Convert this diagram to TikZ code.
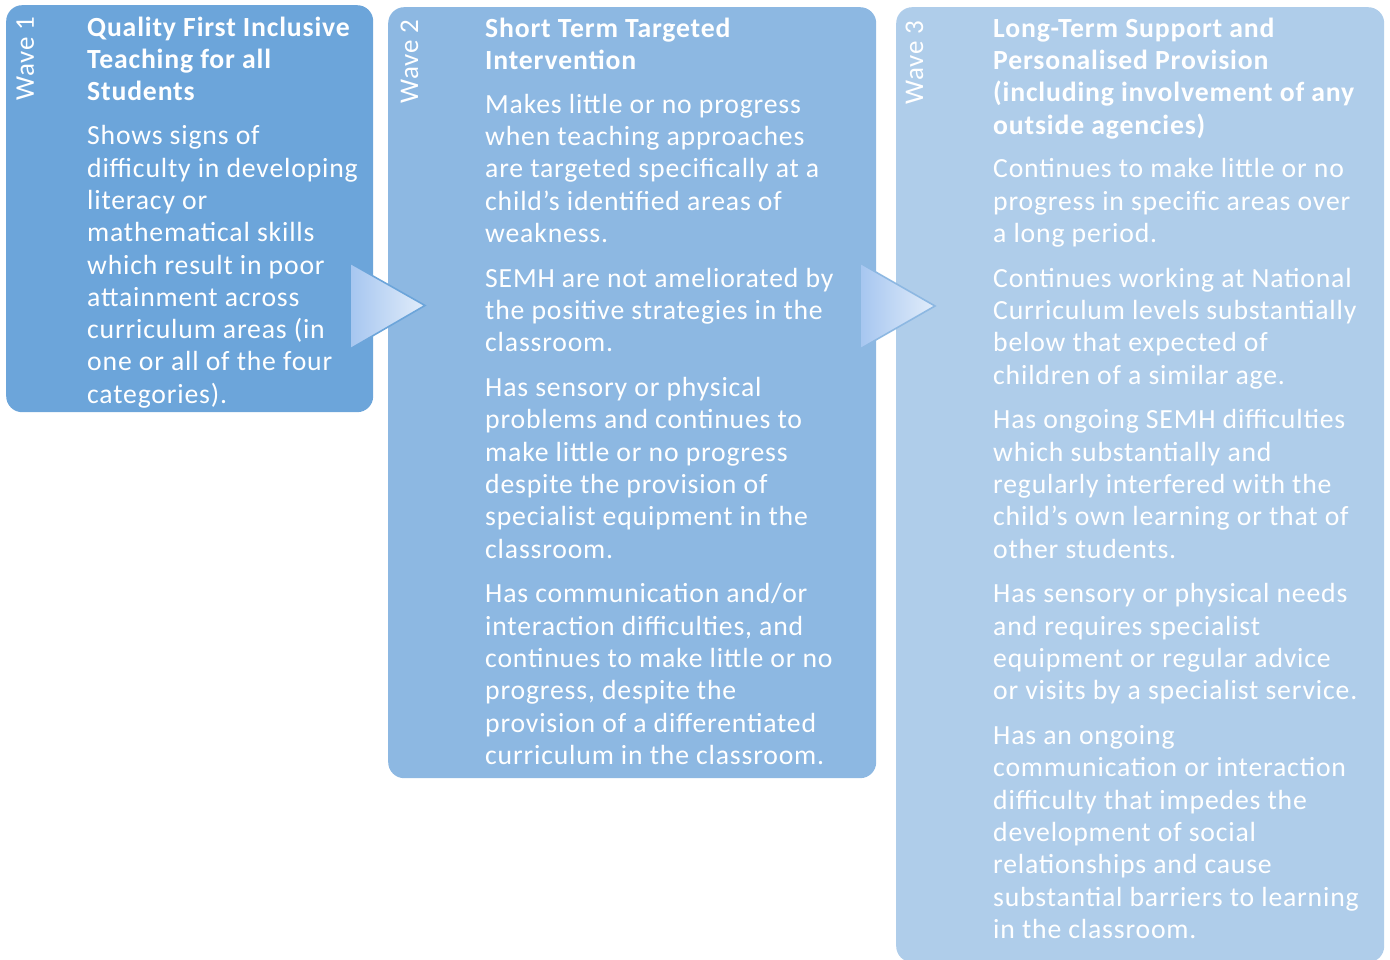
\documentclass[tikz,border=0pt]{standalone}
\usepackage{fontspec}
\setmainfont{Carlito}[LetterSpace=3]
\definecolor{waveA}{HTML}{6CA5DA}
\definecolor{waveB}{HTML}{8DB8E2}
\definecolor{waveC}{HTML}{AFCDEA}
\definecolor{arrL}{HTML}{A6C6F0}
\definecolor{arrR}{HTML}{E2EDFA}
\tikzset{
  panel/.style={rounded corners=16pt, inner sep=0pt, anchor=north west, draw=none},
  txt/.style={anchor=north west, inner sep=0pt, align=left, text=white,
    font=\fontsize{27.7}{32.3}\selectfont},
  ttl/.style={txt, font=\fontsize{27.7}{32.3}\selectfont\bfseries},
  wave/.style={anchor=base west, inner sep=0pt, rotate=90, text=white,
    font=\fontsize{27}{30}\selectfont},
  chevron/.style={line width=1.6pt, left color=arrL, right color=arrR, line join=miter}
}
\begin{document}
\begin{tikzpicture}[x=1pt,y=-1pt]
\useasboundingbox (0,0) rectangle (1390,960);
% panels
\node[panel, fill=waveA, minimum width=367pt, minimum height=407pt] (p1) at (6,5) {};
\node[panel, fill=waveB, minimum width=488pt, minimum height=771pt] (p2) at (388,7) {};
\node[panel, fill=waveC, minimum width=488pt, minimum height=955pt] (p3) at (896,7) {};
% chevrons
\coordinate (a1l) at (350,263);
\coordinate (a1t) at (425,305.5);
\coordinate (a1b) at (350,349);
\draw[chevron, draw=waveA] (a1l) -- (a1t) -- (a1b) -- cycle;
\coordinate (a2l) at (860,263);
\coordinate (a2t) at (935,306);
\coordinate (a2b) at (860,349);
\draw[chevron, draw=waveB] (a2l) -- (a2t) -- (a2b) -- cycle;
% wave labels
\node[wave] (w1) at (34,101) {Wave 1};
\node[wave] (w2) at (418,104) {Wave 2};
\node[wave] (w3) at (923,105) {Wave 3};
% wave 1 text
\node[ttl] (t1) at (87,13.5) {\strut Quality First Inclusive\\Teaching for all\\Students};
\node[txt] (b1) at (87,122.0) {\strut Shows signs of\\difficulty in developing\\literacy or\\mathematical skills\\which result in poor\\attainment across\\curriculum areas (in\\one or all of the four\\categories).};
% wave 2 text
\node[ttl] (t2) at (485,14.5) {\strut Short Term Targeted\\Intervention};
\node[txt] (b2) at (485,90.4) {\strut Makes little or no progress\\when teaching approaches\\are targeted specifically at a\\child’s identified areas of\\weakness.\\[12.5pt]
SEMH are not ameliorated by\\the positive strategies in the\\classroom.\\[12.5pt]
Has sensory or physical\\problems and continues to\\make little or no progress\\despite the provision of\\specialist equipment in the\\classroom.\\[12.5pt]
Has communication and/or\\interaction difficulties, and\\continues to make little or no\\progress, despite the\\provision of a differentiated\\curriculum in the classroom.};
% wave 3 text
\node[ttl] (t3) at (993,14.5) {\strut Long-Term Support and\\Personalised Provision\\(including involvement of any\\outside agencies)};
\node[txt] (b3) at (993,155.0) {\strut Continues to make little or no\\progress in specific areas over\\a long period.\\[12.5pt]
Continues working at National\\Curriculum levels substantially\\below that expected of\\children of a similar age.\\[12.5pt]
Has ongoing SEMH difficulties\\which substantially and\\regularly interfered with the\\child’s own learning or that of\\other students.\\[12.5pt]
Has sensory or physical needs\\and requires specialist\\equipment or regular advice\\or visits by a specialist service.\\[12.5pt]
Has an ongoing\\communication or interaction\\difficulty that impedes the\\development of social\\relationships and cause\\substantial barriers to learning\\in the classroom.};
\end{tikzpicture}
\end{document}
